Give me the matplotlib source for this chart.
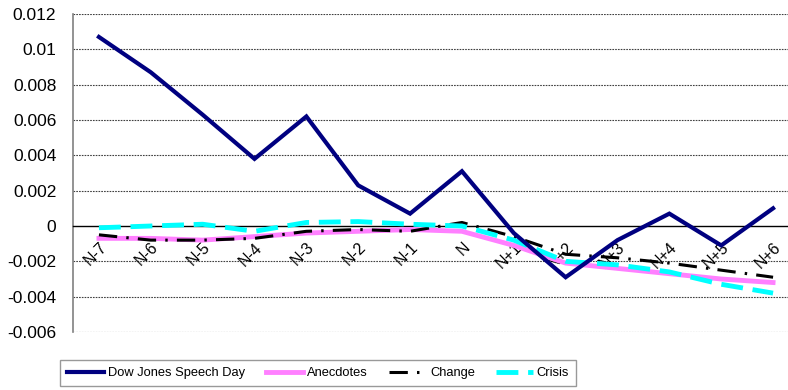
import matplotlib
matplotlib.use("Agg")
import matplotlib.pyplot as plt
import numpy as np

categories = ["N-7", "N-6", "N-5", "N-4", "N-3", "N-2", "N-1", "N",
              "N+1", "N+2", "N+3", "N+4", "N+5", "N+6"]
dow_jones = [0.0107, 0.0087, 0.0063, 0.0038, 0.0062, 0.0023, 0.0007, 0.0031,
             -0.0004, -0.0029, -0.0008, 0.0007, -0.0011, 0.0010]
anecdotes = [-0.0007, -0.0007, -0.0008, -0.0006, -0.0004, -0.0003, -0.0002, -0.0003,
             -0.0011, -0.0021, -0.0024, -0.0027, -0.0030, -0.0032]
change = [-0.0005, -0.0008, -0.0008, -0.0007, -0.0003, -0.0002, -0.0003, 0.0002,
          -0.0006, -0.0016, -0.0018, -0.0021, -0.0025, -0.0029]
crisis = [-0.0001, 0.0000, 0.0001, -0.0003, 0.0002, 0.00025, 0.0001, 0.0000,
          -0.0008, -0.0020, -0.0022, -0.0026, -0.0033, -0.0038]
yticks = [-0.006, -0.004, -0.002, 0, 0.002, 0.004, 0.006, 0.008, 0.01, 0.012]
ytick_labels = ["-0.006", "-0.004", "-0.002", "0", "0.002", "0.004", "0.006",
                "0.008", "0.01", "0.012"]

plt.rcParams['font.family'] = ['Liberation Sans', 'DejaVu Sans']

fig = plt.figure(figsize=(7.88, 3.90), dpi=100)
ax = fig.add_axes([73/788, (390-332)/390, (799-73)/788, (332-14)/390])

ax.spines['bottom'].set_position(('data', 0))
ax.spines['bottom'].set_color('black')
ax.spines['bottom'].set_linewidth(1.0)
ax.spines['top'].set_visible(False)
ax.spines['right'].set_visible(False)
ax.spines['left'].set_color('#808080')
ax.spines['left'].set_linewidth(1.2)

x = np.arange(len(categories))
ax.plot(x, dow_jones, color='#000080', lw=3.0, solid_joinstyle='miter',
        label='Dow Jones Speech Day', zorder=5)
ax.plot(x, anecdotes, color='#FF80FF', lw=3.5, label='Anecdotes', zorder=3)
ax.plot(x, change, color='black', lw=2.2, dashes=(6, 3, 0.8, 3),
        label='Change', zorder=4)
ax.plot(x, crisis, color='#00FFFF', lw=3.5, dashes=(4.5, 2),
        label='Crisis', zorder=4)

ax.set_xlim(-0.5, len(categories) - 0.5)
ax.set_ylim(-0.006, 0.012)
ax.set_yticks(yticks)
ax.set_yticklabels(ytick_labels, fontsize=12.5)
ax.tick_params(axis='y', length=0, pad=12)

ax.set_xticks(x)
ax.set_xticklabels(categories, fontsize=11.5, rotation=45, ha='right',
                   rotation_mode='anchor')
ax.tick_params(axis='x', length=0, pad=10)

for yv in yticks:
    if yv != 0:
        ax.axhline(yv, color='#404040', lw=0.8, ls=(0, (1.5, 1)), zorder=1)

leg = fig.legend(loc='center', bbox_to_anchor=(318/788, 1 - 373/390),
                 ncol=4, frameon=True, fancybox=False,
                 edgecolor='#808080', handlelength=2.9, handletextpad=0.3,
                 columnspacing=1.6, borderpad=0.55, borderaxespad=0,
                 prop={'size': 9.3})
leg.get_frame().set_linewidth(1.0)

fig.savefig('out.png', dpi=100)
